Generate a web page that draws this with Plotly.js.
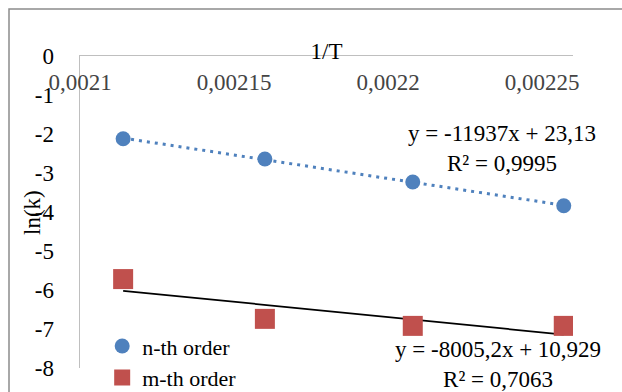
<!DOCTYPE html>
<html>
<head>
<meta charset="utf-8">
<script src="https://cdn.plot.ly/plotly-3.0.1.min.js"></script>
<style>html,body{margin:0;padding:0;background:#fff;}#chart{width:622px;height:392px;}</style>
</head>
<body>
<div id="chart"></div>
<script>
// Data
const invT = [0.002114, 0.00216, 0.002208, 0.002257];
const nthOrder = [-2.12, -2.64, -3.23, -3.84];
const mthOrder = [-5.72, -6.74, -6.92, -6.92];
const seriesNames = ['n-th order', 'm-th order'];
const xTickVals = [0.0021, 0.00215, 0.0022, 0.00225];
const xTickText = ['0,0021', '0,00215', '0,0022', '0,00225'];
const yTickVals = [0, -1, -2, -3, -4, -5, -6, -7, -8];
const yTickText = ['0', '-1', '-2', '-3', '-4', '-5', '-6', '-7', '-8'];
const xTitle = '1/T';
const yTitle = 'ln(k)';
const eqN = ['y = -11937x + 23,13', 'R² = 0,9995'];
const eqM = ['y = -8005,2x + 10,929', 'R² = 0,7063'];

function linfit(x, y) {
  const n = x.length;
  const mx = x.reduce((a, b) => a + b, 0) / n;
  const my = y.reduce((a, b) => a + b, 0) / n;
  let sxy = 0, sxx = 0;
  for (let i = 0; i < n; i++) { sxy += (x[i] - mx) * (y[i] - my); sxx += (x[i] - mx) ** 2; }
  const b = sxy / sxx;
  const a = my - b * mx;
  const xs = [Math.min(...x), Math.max(...x)];
  return { x: xs, y: xs.map(v => a + b * v) };
}
const fitN = linfit(invT, nthOrder);
const fitM = linfit(invT, mthOrder);

const FONT = 'Liberation Serif';

const data = [
  { x: fitN.x, y: fitN.y, mode: 'lines', showlegend: false, hoverinfo: 'skip',
    line: { color: '#4F81BD', width: 3, dash: '3px,5px' } },
  { x: fitM.x, y: fitM.y, mode: 'lines', showlegend: false, hoverinfo: 'skip',
    line: { color: '#000000', width: 1.75 } },
  { x: invT, y: nthOrder, mode: 'markers', name: seriesNames[0],
    marker: { symbol: 'circle', size: 15, color: '#4F81BD' } },
  { x: invT, y: mthOrder, mode: 'markers', name: seriesNames[1],
    marker: { symbol: 'square', size: 20, color: '#C0504D' } }
];

const layout = {
  width: 622, height: 392,
  margin: { l: 80, r: 49, t: 56, b: 24, autoexpand: false },
  paper_bgcolor: '#ffffff', plot_bgcolor: '#ffffff',
  font: { family: FONT, size: 23, color: '#000000' },
  showlegend: true,
  legend: { x: 0.045, y: -0.1, xanchor: 'left', yanchor: 'bottom', bgcolor: 'rgba(0,0,0,0)',
    font: { family: FONT, size: 22, color: '#000' }, traceorder: 'normal' },
  xaxis: {
    range: [0.0021, 0.00226], side: 'top',
    tickvals: xTickVals, ticktext: xTickText,
    tickfont: { family: FONT, size: 23 },
    ticklabelposition: 'inside', ticklabeloverflow: 'allow', ticklabelstandoff: 20,
    ticks: '', showgrid: false, zeroline: false,
    showline: true, linecolor: '#BFBFBF', linewidth: 1.5,
    title: { text: xTitle, standoff: 4, font: { family: FONT, size: 23 } },
    automargin: false
  },
  yaxis: {
    range: [-8, 0], tickvals: yTickVals, ticktext: yTickText,
    tickfont: { family: FONT, size: 23 },
    ticks: '', showgrid: false, zeroline: false, ticklabelstandoff: 20,
    showline: true, linecolor: '#BFBFBF', linewidth: 1.5,
    automargin: false
  },
  annotations: [
    { xref: 'paper', yref: 'paper', x: -0.0974, y: 0.5, xanchor: 'center', yanchor: 'middle',
      text: yTitle, textangle: -90, showarrow: false,
      font: { family: FONT, size: 23, color: '#000' } },
    { xref: 'paper', yref: 'paper', x: 0.856, y: 0.7035, xanchor: 'center', yanchor: 'middle',
      text: eqN.join('<br>'), showarrow: false, align: 'center',
      font: { family: FONT, size: 23, color: '#000' } },
    { xref: 'paper', yref: 'paper', x: 0.848, y: 0.0128, xanchor: 'center', yanchor: 'middle',
      text: eqM.join('<br>'), showarrow: false, align: 'center',
      font: { family: FONT, size: 23, color: '#000' } }
  ],
  shapes: [
    { type: 'rect', xref: 'paper', yref: 'paper', xsizemode: 'pixel', ysizemode: 'pixel',
      xanchor: 0, yanchor: 1, x0: -71, x1: 700, y0: -500, y1: 47,
      line: { color: '#8C8C8C', width: 1.5 }, fillcolor: 'rgba(0,0,0,0)', layer: 'below' }
  ]
};

Plotly.newPlot('chart', data, layout, { displayModeBar: false, staticPlot: true });
</script>
</body>
</html>
